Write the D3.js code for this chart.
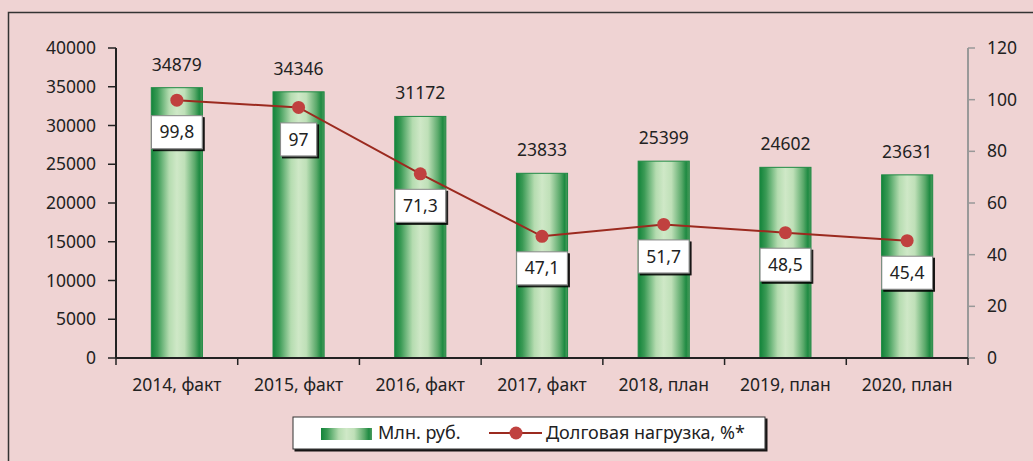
<!DOCTYPE html>
<html>
<head>
<meta charset="utf-8">
<script src="https://cdn.jsdelivr.net/npm/d3@7"></script>
<style>
  body { margin: 0; background: #efd3d3; }
  svg { display: block; font-family: "Noto Sans", sans-serif; }
</style>
</head>
<body>
<svg width="1033" height="461"></svg>
<script>
var categories = ['2014, факт', '2015, факт', '2016, факт', '2017, факт', '2018, план', '2019, план', '2020, план'];
var debtValues = [34879, 34346, 31172, 23833, 25399, 24602, 23631];
var loadValues = [99.8, 97, 71.3, 47.1, 51.7, 48.5, 45.4];
var loadLabels = ['99,8', '97', '71,3', '47,1', '51,7', '48,5', '45,4'];
var leftTicks = [0, 5000, 10000, 15000, 20000, 25000, 30000, 35000, 40000];
var rightTicks = [0, 20, 40, 60, 80, 100, 120];

var svg = d3.select('svg');
var padding = { t: 48, r: 65, b: 103, l: 116 };
var chartWidth = 1033 - padding.l - padding.r;
var chartHeight = 461 - padding.t - padding.b;
var fs = 17.5;

// frame
svg.append('rect')
  .attr('x', 8.5).attr('y', 12.5)
  .attr('width', 1100).attr('height', 500)
  .attr('fill', 'none').attr('stroke', '#333').attr('stroke-width', 1.5);

var defs = svg.append('defs');
var grad = defs.append('linearGradient').attr('id', 'barGrad')
  .attr('x1', '0%').attr('x2', '100%').attr('y1', '0%').attr('y2', '0%');
[[0, '#12843a'], [0.12, '#3a9a55'], [0.35, '#b5dcb0'], [0.5, '#cfe8c7'], [0.65, '#bfe0b8'], [0.85, '#5aa96a'], [0.94, '#1e8a42'], [1, '#4f9c5f']]
  .forEach(function(s) {
    grad.append('stop').attr('offset', s[0]).attr('stop-color', s[1]);
  });
var filt = defs.append('filter').attr('id', 'shadow')
  .attr('x', '-10%').attr('y', '-10%').attr('width', '130%').attr('height', '140%');
filt.append('feDropShadow').attr('dx', 2).attr('dy', 2).attr('stdDeviation', 0.6)
  .attr('flood-color', '#000').attr('flood-opacity', 0.9);

var xScale = d3.scaleBand().domain(categories).range([0, chartWidth]).paddingInner(0.58).paddingOuter(0.29);
var xTickScale = d3.scalePoint().domain(d3.range(categories.length + 1)).range([0, chartWidth]);
var yScale = d3.scaleLinear().domain([0, 40000]).range([chartHeight, 0]);
var y2Scale = d3.scaleLinear().domain([0, 120]).range([chartHeight, 0]);

var chartG = svg.append('g')
  .attr('transform', 'translate(' + [padding.l, padding.t] + ')');

// bars
chartG.selectAll('.bar')
  .data(debtValues)
  .enter()
  .append('rect')
  .attr('class', 'bar')
  .attr('x', (d, i) => xScale(categories[i]))
  .attr('y', d => yScale(d))
  .attr('width', xScale.bandwidth())
  .attr('height', d => chartHeight - yScale(d))
  .attr('fill', 'url(#barGrad)')
  .attr('stroke', '#1f8a44').attr('stroke-width', 1);

chartG.selectAll('.barLabel')
  .data(debtValues)
  .enter()
  .append('text')
  .attr('class', 'barLabel')
  .attr('x', (d, i) => xScale(categories[i]) + xScale.bandwidth() / 2)
  .attr('y', d => yScale(d) - 17)
  .attr('text-anchor', 'middle')
  .attr('font-size', fs)
  .attr('fill', '#222')
  .text(d => d);

// left axis
var yAxisG = chartG.append('g').attr('class', 'axis');
yAxisG.append('line').attr('x1', 0).attr('x2', 0).attr('y1', 0).attr('y2', chartHeight)
  .attr('stroke', '#222').attr('stroke-width', 2);
yAxisG.selectAll('.tick').data(leftTicks).enter().append('line')
  .attr('x1', -8).attr('x2', 0)
  .attr('y1', d => yScale(d)).attr('y2', d => yScale(d))
  .attr('stroke', '#222').attr('stroke-width', 1.5);
yAxisG.selectAll('.tl').data(leftTicks).enter().append('text')
  .attr('x', -20).attr('y', d => yScale(d)).attr('dy', '0.35em')
  .attr('text-anchor', 'end').attr('font-size', fs).attr('fill', '#222')
  .text(d => d);

// right axis
var y2AxisG = chartG.append('g').attr('transform', 'translate(' + [chartWidth, 0] + ')');
y2AxisG.append('line').attr('x1', 0).attr('x2', 0).attr('y1', 0).attr('y2', chartHeight)
  .attr('stroke', '#999').attr('stroke-width', 2);
y2AxisG.selectAll('.tick').data(rightTicks).enter().append('line')
  .attr('x1', 0).attr('x2', 7)
  .attr('y1', d => y2Scale(d)).attr('y2', d => y2Scale(d))
  .attr('stroke', '#999').attr('stroke-width', 1.5);
y2AxisG.selectAll('.tl').data(rightTicks).enter().append('text')
  .attr('x', 19).attr('y', d => y2Scale(d)).attr('dy', '0.35em')
  .attr('text-anchor', 'start').attr('font-size', fs).attr('fill', '#222')
  .text(d => d);

// x axis
var xAxisG = chartG.append('g').attr('transform', 'translate(' + [0, chartHeight] + ')');
xAxisG.append('line').attr('x1', 0).attr('x2', chartWidth)
  .attr('stroke', '#222').attr('stroke-width', 2);
xAxisG.selectAll('.tick').data(xTickScale.domain()).enter().append('line')
  .attr('x1', d => xTickScale(d)).attr('x2', d => xTickScale(d))
  .attr('y1', 0).attr('y2', 7)
  .attr('stroke', '#222').attr('stroke-width', 1.5);
xAxisG.selectAll('.tl').data(categories).enter().append('text')
  .attr('x', d => xScale(d) + xScale.bandwidth() / 2).attr('y', 27).attr('dy', '0.35em')
  .attr('text-anchor', 'middle').attr('font-size', fs).attr('fill', '#222')
  .text(d => d);

// line
var line = d3.line()
  .x((d, i) => xScale(categories[i]) + xScale.bandwidth() / 2)
  .y(d => y2Scale(d));
chartG.append('path').datum(loadValues)
  .attr('d', line).attr('fill', 'none')
  .attr('stroke', '#9b2a1f').attr('stroke-width', 2);
chartG.selectAll('.dot').data(loadValues).enter().append('circle')
  .attr('cx', (d, i) => xScale(categories[i]) + xScale.bandwidth() / 2)
  .attr('cy', d => y2Scale(d))
  .attr('r', 6.5).attr('fill', '#c0413f');

// value labels
var labG = chartG.selectAll('.lab').data(loadValues).enter().append('g')
  .attr('transform', (d, i) => 'translate(' + [xScale(categories[i]) + xScale.bandwidth() / 2, y2Scale(d) + 32] + ')');
labG.append('text')
  .attr('text-anchor', 'middle').attr('dy', '0.35em')
  .attr('font-size', fs).attr('fill', '#222')
  .text((d, i) => loadLabels[i])
  .each(function() {
    var bb = this.getBBox();
    d3.select(this.parentNode).insert('rect', 'text')
      .attr('x', bb.x - 8).attr('y', -16.5)
      .attr('width', bb.width + 16).attr('height', 33)
      .attr('fill', '#fff').attr('stroke', '#888').attr('stroke-width', 1)
      .attr('filter', 'url(#shadow)');
  });

// legend
var legendG = svg.append('g').attr('transform', 'translate(293,417)');
legendG.append('rect').attr('width', 472).attr('height', 32)
  .attr('fill', '#fff').attr('stroke', '#333').attr('stroke-width', 1)
  .attr('filter', 'url(#shadow)');
legendG.append('rect').attr('x', 28).attr('y', 11).attr('width', 51).attr('height', 12)
  .attr('fill', 'url(#barGrad)');
legendG.append('text').attr('x', 85).attr('y', 16).attr('dy', '0.35em')
  .attr('font-size', 18).attr('fill', '#222').text('Млн. руб.');
legendG.append('line').attr('x1', 196).attr('x2', 249).attr('y1', 16).attr('y2', 16)
  .attr('stroke', '#9b2a1f').attr('stroke-width', 2);
legendG.append('circle').attr('cx', 223).attr('cy', 16).attr('r', 6.5).attr('fill', '#c0413f');
legendG.append('text').attr('x', 253).attr('y', 16).attr('dy', '0.35em')
  .attr('font-size', 18).attr('fill', '#222').text('Долговая нагрузка, %*');
</script>
</body>
</html>
